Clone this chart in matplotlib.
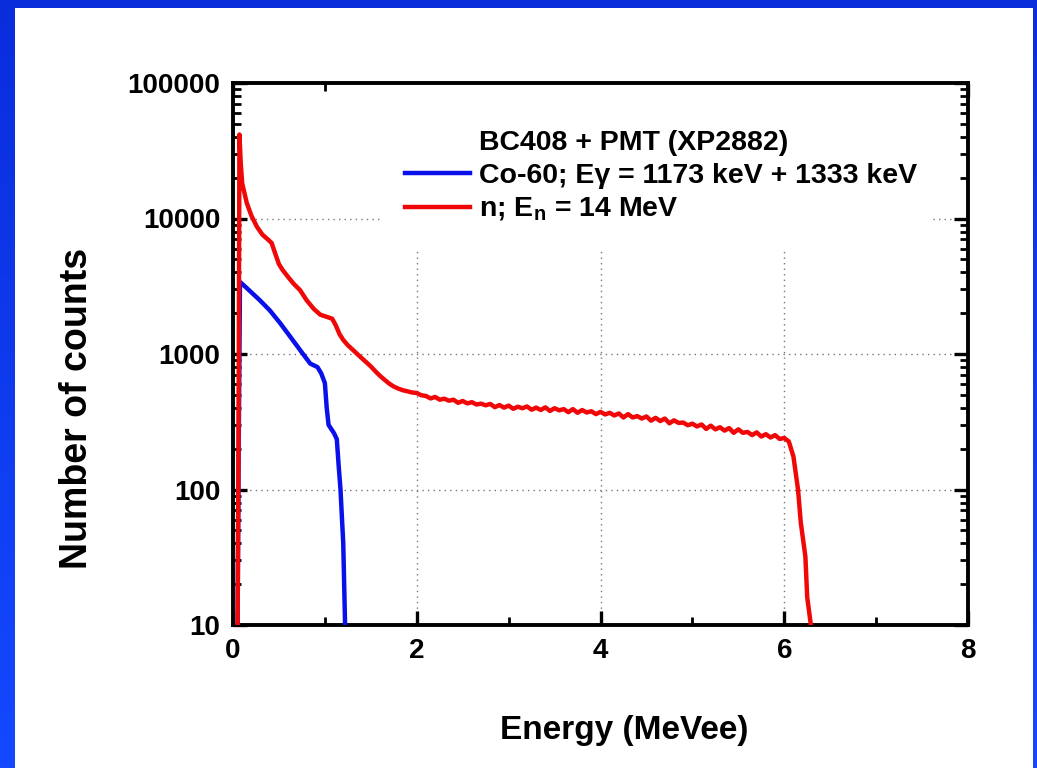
import numpy as np
import matplotlib
matplotlib.use('Agg')
import matplotlib.pyplot as plt
from matplotlib.ticker import MultipleLocator, LogLocator, NullFormatter
from matplotlib.lines import Line2D
from matplotlib.patches import Rectangle

plt.rcParams['font.family'] = ['Liberation Sans', 'DejaVu Sans']
plt.rcParams['font.weight'] = 'bold'
plt.rcParams['mathtext.fontset'] = 'custom'
plt.rcParams['mathtext.rm'] = 'Liberation Sans:bold'
plt.rcParams['mathtext.bf'] = 'Liberation Sans:bold'

# Co-60 gamma spectrum
co_energy = [0.05, 0.06, 0.076, 0.12, 0.2, 0.29, 0.4, 0.51, 0.62, 0.73,
             0.84, 0.92, 0.96, 1.0, 1.02, 1.04, 1.1, 1.13, 1.15, 1.17,
             1.2, 1.22]
co_counts = [10, 130, 3400, 3200, 2850, 2500, 2100, 1700, 1350, 1070,
             850, 800, 720, 610, 400, 300, 260, 235, 150, 100,
             40, 10]

# 14 MeV neutron spectrum
n_energy = [0.05, 0.06, 0.07, 0.085, 0.1, 0.15, 0.2, 0.26, 0.32, 0.38,
            0.42, 0.46, 0.5, 0.54, 0.6, 0.66, 0.73, 0.8, 0.88, 0.95,
            1.02, 1.08, 1.12, 1.16, 1.2, 1.25, 1.3, 1.38, 1.45, 1.5,
            1.55, 1.6, 1.65, 1.7, 1.75, 1.8, 1.85, 1.9, 1.95,
            2.00, 2.05, 2.10, 2.15, 2.20, 2.25, 2.30, 2.35, 2.40, 2.45,
            2.50, 2.55, 2.60, 2.65, 2.70, 2.75, 2.80, 2.85, 2.90, 2.95,
            3.00, 3.05, 3.10, 3.15, 3.20, 3.25, 3.30, 3.35, 3.40, 3.45,
            3.50, 3.55, 3.60, 3.65, 3.70, 3.75, 3.80, 3.85, 3.90, 3.95,
            4.00, 4.05, 4.10, 4.15, 4.20, 4.25, 4.30, 4.35, 4.40, 4.45,
            4.50, 4.55, 4.60, 4.65, 4.70, 4.75, 4.80, 4.85, 4.90, 4.95,
            5.00, 5.05, 5.10, 5.15, 5.20, 5.25, 5.30, 5.35, 5.40, 5.45,
            5.50, 5.55, 5.60, 5.65, 5.70, 5.75, 5.80, 5.85, 5.90, 5.95,
            6.00, 6.05, 6.1, 6.15, 6.18, 6.23, 6.25, 6.29]
n_counts = [10, 200, 41700, 25000, 18200, 13000, 10500, 8700, 7600, 7000,
            6600, 5500, 4600, 4170, 3700, 3300, 2960, 2500, 2150, 1950,
            1880, 1820, 1620, 1400, 1270, 1160, 1080, 960, 870, 810,
            745, 690, 645, 605, 575, 555, 540, 530, 520,
            515, 496, 490, 470, 482, 460, 468, 452, 460, 436,
            450, 432, 441, 424, 430, 418, 428, 405, 420, 402,
            416, 394, 408, 398, 410, 388, 402, 386, 404, 380,
            398, 384, 392, 372, 392, 368, 386, 370, 378, 360,
            374, 358, 368, 352, 364, 340, 360, 340, 348, 334,
            346, 322, 338, 320, 334, 308, 324, 310, 312, 298,
            306, 292, 302, 280, 296, 278, 288, 272, 284, 262,
            278, 262, 266, 252, 264, 246, 256, 242, 252, 236,
            240, 226, 175, 100, 57, 32, 16, 10]

y_ticks = [10, 100, 1000, 10000, 100000]
y_labels = ['10', '100', '1000', '10000', '100000']
x_ticks = [0, 2, 4, 6, 8]

fig = plt.figure(figsize=(10.37, 7.68), dpi=100)

# slide background: blue gradient with a white panel
bg = fig.add_axes([0, 0, 1, 1], zorder=-20)
grad = np.linspace(0, 1, 256).reshape(-1, 1)
bg.imshow(grad, aspect='auto', extent=[0, 1, 0, 1],
          cmap=matplotlib.colors.LinearSegmentedColormap.from_list(
              'slide', ['#1449ff', '#0a2ddc']), origin='lower')
bg.axis('off')
panel = fig.add_axes([15 / 1037, 0, 1018 / 1037, 760 / 768], zorder=-10)
panel.set_facecolor('white')
panel.set_xticks([])
panel.set_yticks([])
for s in panel.spines.values():
    s.set_visible(False)

ax = fig.add_axes([233 / 1037, 143 / 768, 735 / 1037, 542 / 768])
ax.set_facecolor('none')

ax.plot(co_energy, co_counts, color='#0a10ea', lw=3.2, zorder=3,
        label='Co-60; Eγ = 1173 keV + 1333 keV')
ax.plot(n_energy, n_counts, color='#f00808', lw=3.2, zorder=3,
        label=r'n; E$_\mathregular{n}$ = 14 MeV')

ax.set_yscale('log')
ax.set_xlim(0, 8)
ax.set_ylim(10, 100000)
ax.set_xticks(x_ticks)
ax.set_xticklabels([str(v) for v in x_ticks])
ax.xaxis.set_minor_locator(MultipleLocator(1))
ax.set_yticks(y_ticks)
ax.set_yticklabels(y_labels)
ax.yaxis.set_minor_locator(LogLocator(base=10, subs=np.arange(2, 10)))
ax.yaxis.set_minor_formatter(NullFormatter())

ax.tick_params(which='both', direction='in', top=True, right=True,
               labelsize=20, pad=9)
ax.tick_params(which='major', length=10, width=2.4)
ax.tick_params(which='minor', length=6, width=2.0)
for s in ax.spines.values():
    s.set_linewidth(2.8)

ax.grid(True, which='major', linestyle=(0, (1, 3)), color='#777777', lw=1.0)
# white area behind the legend hides the grid there
ax.add_patch(Rectangle((0.203, 0.69), 0.745, 0.31, transform=ax.transAxes,
                       facecolor='white', edgecolor='none', zorder=2))

ax.set_xlabel('Energy (MeVee)', fontsize=24, fontweight='bold')
ax.set_ylabel('Number of counts', fontsize=27, fontweight='bold')
ax.xaxis.set_label_coords(0.532, -0.166)
ax.yaxis.set_label_coords(-0.188, 0.40)

handles, labels = ax.get_legend_handles_labels()
title_handle = Line2D([], [], color='none')
leg = ax.legend([title_handle] + handles, ['BC408 + PMT (XP2882)'] + labels,
                loc='upper left', bbox_to_anchor=(0.203, 0.956),
                borderaxespad=0, borderpad=0.8, fontsize=20.5,
                handlelength=2.3, handletextpad=0.3, labelspacing=0.25,
                frameon=False)
for line in leg.get_lines()[1:]:
    line.set_linewidth(3.2)

fig.savefig('out.png', dpi=100)
